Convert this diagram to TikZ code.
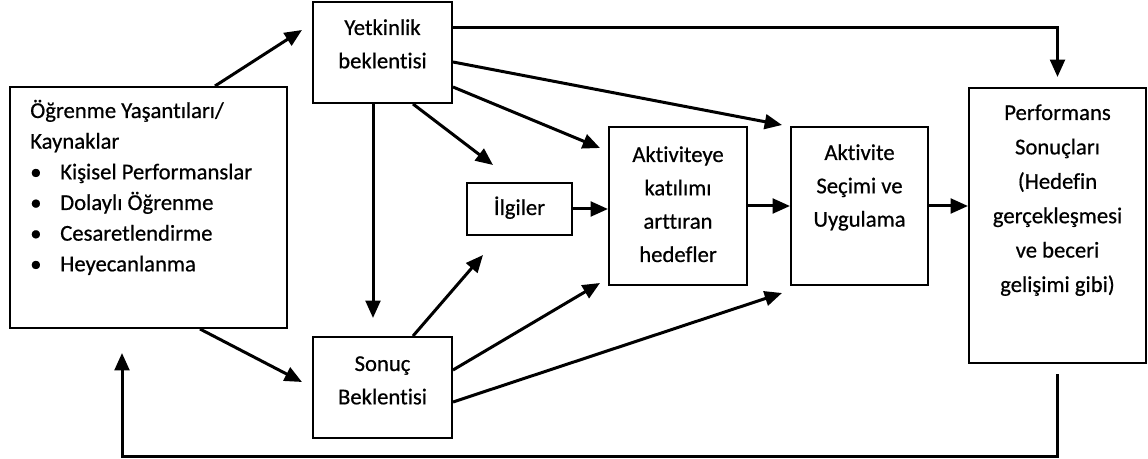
\documentclass[tikz,border=0pt]{standalone}
\usepackage{fontspec}
\setmainfont{Carlito}[Ligatures={NoCommon},FakeBold=0.6]
\usetikzlibrary{arrows.meta}

\begin{document}
\begin{tikzpicture}[x=0.75pt,y=-0.75pt]
    \tikzstyle{every node}=[font=\fontsize{17}{25}\selectfont]
    \tikzstyle{box}=[draw,line width=1.5pt,inner sep=0pt]
    \tikzstyle{txt}=[anchor=base,align=flush center,inner sep=0pt,text width=130pt]
    \tikzstyle{arr}=[line width=2.25pt,-{Triangle[length=13pt,width=11pt]}]

    \useasboundingbox (0,0) rectangle (1148,459);

    \node[box,minimum width=207.75pt,minimum height=180.75pt] (src) at (148.5,207.5) {};
    \node[box,minimum width=104.25pt,minimum height=75.75pt] (yet) at (382.5,52.5) {};
    \node[box,minimum width=104.25pt,minimum height=75.75pt] (son) at (382.5,387.5) {};
    \node[box,minimum width=78.75pt,minimum height=39pt] (ilg) at (519.5,209) {};
    \node[box,minimum width=103.5pt,minimum height=118.5pt] (hed) at (678,206) {};
    \node[box,minimum width=102.75pt,minimum height=118.5pt] (sec) at (859.5,206) {};
    \node[box,minimum width=132.75pt,minimum height=206.25pt] (per) at (1057.5,225.5) {};

    \node[txt,anchor=base west,align=flush left,text width=200pt,
      font=\fontsize{17}{23}\selectfont] (srctxt) at (30,118)
      {Öğrenme Yaşantıları/\\Kaynaklar\\
      \makebox[22.5pt][l]{\textbullet}Kişisel Performanslar\\
      \makebox[22.5pt][l]{\textbullet}Dolaylı Öğrenme\\
      \makebox[22.5pt][l]{\textbullet}Cesaretlendirme\\
      \makebox[22.5pt][l]{\textbullet}Heyecanlanma};
    \node[txt] (yettxt) at (382.5,35) {Yetkinlik\\beklentisi};
    \node[txt] (sontxt) at (382.5,371) {Sonuç\\Beklentisi};
    \node[txt] (ilgtxt) at (519.5,215) {İlgiler};
    \node[txt] (hedtxt) at (678,162) {Aktiviteye\\katılımı\\arttıran\\hedefler};
    \node[txt] (sectxt) at (859.5,160) {Aktivite\\Seçimi ve\\Uygulama};
    \node[txt,font=\fontsize{17}{25.8}\selectfont] (pertxt) at (1057.5,120)
      {Performans\\Sonuçları\\(Hedefin\\gerçekleşmesi\\ve beceri\\gelişimi gibi)};

    \coordinate (tyet) at (302,30);
    \coordinate (tper) at (1057.5,77);
    \coordinate (tsec1) at (782,125);
    \coordinate (tsec2) at (782,293);
    \coordinate (thed1) at (600,148);
    \coordinate (thed2) at (600,283);
    \coordinate (tilg1) at (493,165);
    \coordinate (tilg2) at (483,255);
    \coordinate (tson1) at (373,318);
    \coordinate (tson2) at (302,382);
    \coordinate (fb) at (122,456);
    \coordinate (tsrc) at (122,353);

    \draw[arr] ([shift={(66.5,0)}]src.north) -- (tyet);
    \draw[arr] ([shift={(51.5,0)}]src.south) -- (tson2);
    \draw[arr] ([shift={(0,-24.5)}]yet.east) -| (tper);
    \draw[arr] ([shift={(0,9.5)}]yet.east) -- (tsec1);
    \draw[arr] ([shift={(0,34.5)}]yet.east) -- (thed1);
    \draw[arr] ([shift={(30.5,0)}]yet.south) -- (tilg1);
    \draw[arr] ([shift={(-9.5,0)}]yet.south) -- (tson1);
    \draw[arr] ([shift={(30.5,0)}]son.north) -- (tilg2);
    \draw[arr] ([shift={(0,-17.5)}]son.east) -- (thed2);
    \draw[arr] ([shift={(0,14.5)}]son.east) -- (tsec2);
    \draw[arr] (ilg.east) -- (ilg.east -| hed.west);
    \draw[arr] (hed.east) -- (hed.east -| sec.west);
    \draw[arr] (sec.east) -- (sec.east -| per.west);
    \draw[arr] ([shift={(0,10)}]per.south) |- (fb) -- (tsrc);

\end{tikzpicture}
\end{document}
